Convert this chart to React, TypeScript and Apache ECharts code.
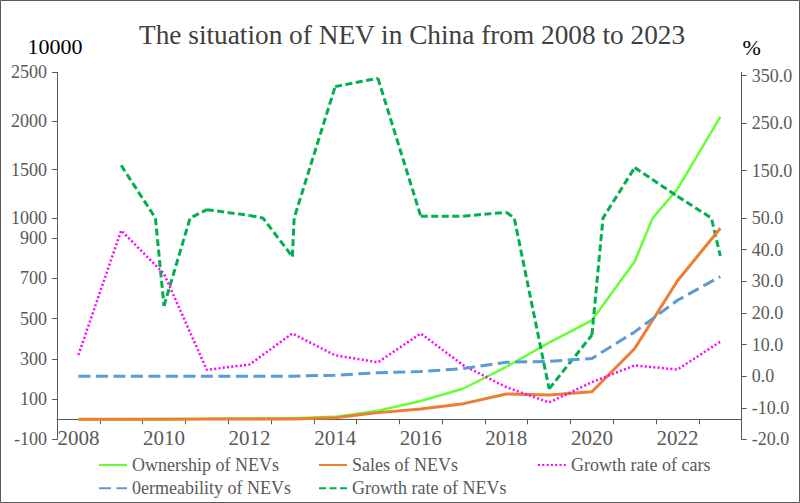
import React, { useEffect, useRef } from "react";
import * as echarts from "echarts";

// ---- data (units: 10000 vehicles / %) ----
const years = ["2008", "2009", "2010", "2011", "2012", "2013", "2014", "2015", "2016", "2017", "2018", "2019", "2020", "2021", "2022", "2023"];
const ownership = [0, 0.5, 1.3, 2.1, 3.4, 5.2, 12, 42, 91, 153, 261, 381, 492, 784, 1300, 2041];
const sales = [0.2, 0.5, 0.7, 0.8, 1.3, 1.8, 7.5, 33.1, 50.7, 77.7, 125.6, 120.6, 136.7, 352.1, 688.7, 949.5];
const carGrowth = [6.7, 46.1, 32.4, 2.0, 3.7, 13.5, 6.6, 4.4, 13.5, 3.4, -3.5, -8.3, -1.9, 3.4, 2.1, 10.9];
const permeability = [0, 0, 0, 0, 0, 0, 0.3, 1.1, 1.5, 2.4, 4.4, 4.7, 5.6, 14.0, 24.0, 31.5];
const nevGrowth: (number | null)[] = [null, 161, 22.2, 67.8, 55.6, 37.8, 327, 344.6, 54, 54, 62.3, -4.0, 13.0, 156.4, 95.8, 38];

// tick labels
const leftTicks = [-100, 100, 300, 500, 700, 900, 1000, 1500, 2000, 2500];
const rightTicks = [-20, -10, 0, 10, 20, 30, 40, 50, 150, 250, 350];

// broken (piecewise linear) axis scales: [value, internal coordinate]
const leftScale: [number, number][] = [[-100, -20.12], [1000, 201.2], [2500, 346.9]];
const rightScale: [number, number][] = [[-20, -20.12], [50, 201.2], [350, 343.6]];
const yMin = -20.12;
const yMax = 346.9;

function toT(scale: [number, number][], v: number): number {
  for (let k = 0; k < scale.length - 1; k++) {
    const [v0, t0] = scale[k];
    const [v1, t1] = scale[k + 1];
    if (v <= v1 || k === scale.length - 2) {
      return t0 + ((v - v0) / (v1 - v0)) * (t1 - t0);
    }
  }
  return 0;
}

function labelFor(val: number, ticks: number[], scale: [number, number][], digits: number) {
  let best = ticks[0];
  let bd = Infinity;
  for (const t of ticks) {
    const d = Math.abs(toT(scale, t) - val);
    if (d < bd) {
      bd = d;
      best = t;
    }
  }
  return best.toFixed(digits);
}

const FONT = "Liberation Serif";
const AXIS = "#595959";
const LABEL = "#595959";

function segmentRenderer(values: (number | null)[], scale: [number, number][], color: string, width: number, dash: number[] | null) {
  const breaks = scale.slice(1, -1).map((s) => s[0]);
  return (params: any, api: any) => {
    const i = params.dataIndex;
    if (i === 0) return null;
    const a = values[i - 1];
    const b = values[i];
    if (a == null || b == null) return null;
    const p0 = api.coord([i - 1, toT(scale, a)]);
    const p1 = api.coord([i, toT(scale, b)]);
    const pts: number[][] = [p0];
    for (const br of breaks) {
      if ((a - br) * (b - br) < 0) {
        const f = (br - a) / (b - a);
        const yb = api.coord([i, toT(scale, br)])[1];
        pts.push([p0[0] + f * (p1[0] - p0[0]), yb]);
      }
    }
    pts.push(p1);
    return {
      type: "polyline",
      shape: { points: pts },
      style: { stroke: color, lineWidth: width, fill: null, lineDash: dash || undefined },
    };
  };
}

export default function App() {
  const ref = useRef<HTMLDivElement>(null);
  useEffect(() => {
    if (!ref.current) return;
    const chart = echarts.init(ref.current, null, { renderer: "svg" });
    const legendText = {
      fontFamily: FONT,
      fontSize: 18,
      color: LABEL,
      rich: { t: { fontFamily: FONT, fontSize: 18, color: LABEL } },
    };
    const legendBase = {
      orient: "vertical",
      top: 456,
      padding: 0,
      itemGap: 5.3,
      itemWidth: 28,
      itemHeight: 14,
      textStyle: legendText,
      formatter: (name: string) => "{t|" + name + "}",
      itemStyle: { opacity: 0 },
      selectedMode: false,
    };
    const green = "#66FF33";
    const orange = "#ED7D31";
    const magenta = "#FF00FF";
    const blue = "#5B9BD5";
    const dgreen = "#00B050";
    const nevDash = [7, 3.5];
    chart.setOption({
      animation: false,
      textStyle: { fontFamily: FONT },
      title: {
        text: "The situation of NEV in China from 2008 to 2023",
        left: 139,
        top: 20,
        padding: 0,
        textStyle: { fontFamily: FONT, fontSize: 27.3, fontWeight: "normal", color: "#404040", lineHeight: 30 },
      },
      graphic: [
        {
          type: "rect",
          shape: { x: 0.5, y: 0.5, width: 799, height: 502 },
          style: { fill: null, stroke: "#595959", lineWidth: 1 },
          silent: true,
        },
      ],
      legend: [
        { ...legendBase, left: 98, data: ["Ownership of NEVs", "0ermeability of NEVs"] },
        { ...legendBase, left: 318, data: ["Sales of NEVs", "Growth rate of NEVs"] },
        { ...legendBase, left: 537, data: ["Growth rate of cars"] },
      ],
      grid: { left: 57, right: 58.3, top: 72.4, bottom: 63.6, containLabel: false },
      xAxis: {
        type: "category",
        data: years,
        boundaryGap: true,
        offset: -20.12,
        axisLine: { show: true, onZero: false, lineStyle: { color: AXIS, width: 1 } },
        axisTick: { show: true, interval: 0, length: 5, lineStyle: { color: AXIS } },
        axisLabel: { interval: 1, margin: 8, fontSize: 21, color: LABEL, fontFamily: FONT },
        splitLine: { show: false },
      },
      yAxis: [
        {
          type: "value",
          position: "left",
          min: yMin,
          max: yMax,
          name: "10000",
          nameLocation: "end",
          nameGap: 15,
          nameTextStyle: { fontFamily: FONT, fontSize: 22, color: "#000", padding: [0, 4, 0, 0] },
          splitLine: { show: false },
          axisLine: { show: true, onZero: false, lineStyle: { color: AXIS } },
          axisTick: { show: true, length: 5, customValues: leftTicks.map((v) => toT(leftScale, v)), lineStyle: { color: AXIS } },
          axisLabel: {
            customValues: leftTicks.map((v) => toT(leftScale, v)),
            formatter: (val: number) => labelFor(val, leftTicks, leftScale, 0),
            margin: 10,
            fontSize: 18,
            color: LABEL,
            fontFamily: FONT,
          },
        },
        {
          type: "value",
          position: "right",
          min: yMin,
          max: yMax,
          name: "%",
          nameLocation: "end",
          nameGap: 14,
          nameTextStyle: { fontFamily: FONT, fontSize: 22, color: "#000", padding: [0, 0, 0, 20] },
          splitLine: { show: false },
          axisLine: { show: true, onZero: false, lineStyle: { color: AXIS } },
          axisTick: { show: true, length: 5, customValues: rightTicks.map((v) => toT(rightScale, v)), lineStyle: { color: AXIS } },
          axisLabel: {
            customValues: rightTicks.map((v) => toT(rightScale, v)),
            formatter: (val: number) => labelFor(val, rightTicks, rightScale, 1),
            margin: 10,
            fontSize: 18,
            color: LABEL,
            fontFamily: FONT,
          },
        },
      ],
      series: [
        {
          type: "line",
          name: "Ownership of NEVs",
          yAxisIndex: 0,
          data: [],
          symbol: "none",
          itemStyle: { color: green },
          lineStyle: { color: green, width: 2.5 },
        },
        {
          type: "custom",
          name: "Ownership of NEVs",
          yAxisIndex: 0,
          data: ownership.map((v, i) => [i, toT(leftScale, v)]),
          encode: { x: 0, y: 1 },
          itemStyle: { color: green },
          renderItem: segmentRenderer(ownership, leftScale, green, 2.5, null),
          silent: true,
        },
        {
          type: "line",
          name: "Sales of NEVs",
          yAxisIndex: 0,
          data: sales.map((v) => toT(leftScale, v)),
          symbol: "none",
          itemStyle: { color: orange },
          lineStyle: { color: orange, width: 3 },
          silent: true,
        },
        {
          type: "line",
          name: "Growth rate of cars",
          yAxisIndex: 1,
          data: carGrowth.map((v) => toT(rightScale, v)),
          symbol: "none",
          itemStyle: { color: magenta },
          lineStyle: { color: magenta, width: 2.5, type: [2, 2.3] },
          silent: true,
        },
        {
          type: "line",
          name: "0ermeability of NEVs",
          yAxisIndex: 1,
          data: permeability.map((v) => toT(rightScale, v)),
          symbol: "none",
          itemStyle: { color: blue },
          lineStyle: { color: blue, width: 3, type: [12, 5.5] },
          silent: true,
        },
        {
          type: "line",
          name: "Growth rate of NEVs",
          yAxisIndex: 1,
          data: [],
          symbol: "none",
          itemStyle: { color: dgreen },
          lineStyle: { color: dgreen, width: 3, type: nevDash },
        },
        {
          type: "custom",
          name: "Growth rate of NEVs",
          yAxisIndex: 1,
          data: nevGrowth.map((v, i) => [i, v == null ? "-" : toT(rightScale, v)]),
          encode: { x: 0, y: 1 },
          itemStyle: { color: dgreen },
          renderItem: segmentRenderer(nevGrowth, rightScale, dgreen, 3, nevDash),
          silent: true,
        },
      ],
    });
    return () => chart.dispose();
  }, []);
  return <div ref={ref} style={{ position: "absolute", left: 0, top: 0, width: 800, height: 503 }} />;
}
